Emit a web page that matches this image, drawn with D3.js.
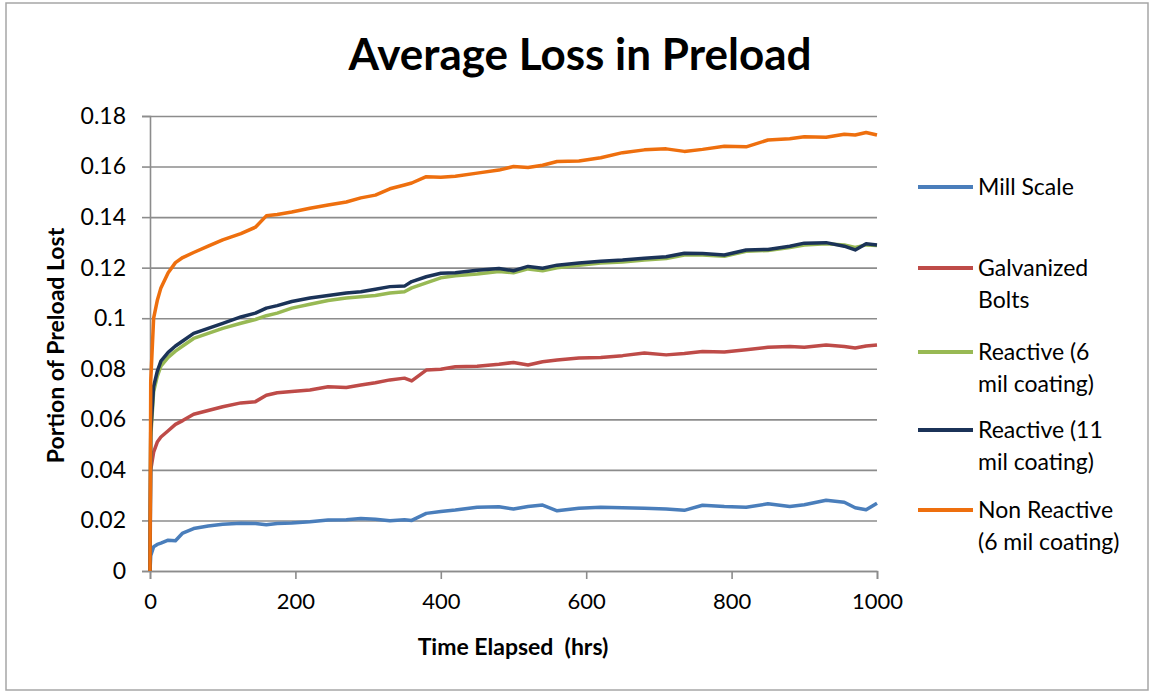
<!DOCTYPE html>
<html>
<head>
<meta charset="utf-8">
<script src="https://cdn.jsdelivr.net/npm/d3@7"></script>
<style>
    body { margin: 0; background: #fff; }
    text { font-family: Lato, 'Open Sans', sans-serif; fill: #000; }
</style>
</head>
<body>
<div id="chart"></div>
<script>
const hours = [0, 1, 5, 10, 15, 25, 35, 45, 60, 80, 100, 125, 145, 160, 175, 195, 220, 245, 270, 290,
    310, 330, 350, 360, 380, 400, 420, 450, 480, 500, 520, 540, 560, 590, 620, 650, 680, 710, 735, 760,
    790, 820, 850, 880, 900, 930, 955, 970, 985, 1000];

const millScale = [0, 0.006, 0.0096, 0.0105, 0.011, 0.0122, 0.012, 0.015, 0.0168, 0.0178, 0.0185, 0.0189, 0.0188, 0.0183, 0.0188, 0.019, 0.0195, 0.0202, 0.0203, 0.0208,
    0.0205, 0.0199, 0.0203, 0.02, 0.0228, 0.0235, 0.0241, 0.0252, 0.0254, 0.0245, 0.0255, 0.0261, 0.0238, 0.0248, 0.0252, 0.025, 0.0248, 0.0245, 0.024, 0.026,
    0.0255, 0.0252, 0.0266, 0.0255, 0.0262, 0.028, 0.0272, 0.025, 0.0242, 0.0268];

const galvanized = [0, 0.04, 0.047, 0.051, 0.053, 0.0555, 0.058, 0.0595, 0.062, 0.0635, 0.065, 0.0665, 0.067, 0.0695, 0.0705, 0.071, 0.0716, 0.0729, 0.0726, 0.0736,
    0.0745, 0.0756, 0.0763, 0.0752, 0.0795, 0.0798, 0.0808, 0.081, 0.0818, 0.0825, 0.0815, 0.0828, 0.0835, 0.0843, 0.0845, 0.0852, 0.0862, 0.0855, 0.086, 0.0868,
    0.0866, 0.0875, 0.0885, 0.0888, 0.0885, 0.0894, 0.0888, 0.0882, 0.089, 0.0894];

const reactive6 = [0, 0.053, 0.071, 0.077, 0.081, 0.0845, 0.087, 0.089, 0.092, 0.094, 0.096, 0.098, 0.0995, 0.101, 0.102, 0.104, 0.1055, 0.107, 0.108, 0.1085,
    0.109, 0.11, 0.1105, 0.112, 0.114, 0.116, 0.1168, 0.1175, 0.1185, 0.118, 0.1195, 0.1188, 0.12, 0.121, 0.1218, 0.1222, 0.123, 0.1236, 0.125, 0.125,
    0.1245, 0.1265, 0.1268, 0.128, 0.129, 0.1295, 0.129, 0.128, 0.129, 0.1288];

const reactive11 = [0, 0.055, 0.073, 0.079, 0.083, 0.0865, 0.089, 0.091, 0.094, 0.096, 0.098, 0.1005, 0.102, 0.104, 0.105, 0.1066, 0.108, 0.109, 0.11, 0.1105,
    0.1115, 0.1125, 0.1127, 0.1145, 0.1164, 0.1178, 0.118, 0.119, 0.1197, 0.1188, 0.1205, 0.1198, 0.121, 0.1218, 0.1225, 0.123, 0.1237, 0.1243, 0.1257, 0.1256,
    0.125, 0.127, 0.1272, 0.1285, 0.1297, 0.1299, 0.1285, 0.127, 0.1295, 0.129];

const nonReactive = [0, 0.075, 0.1, 0.107, 0.112, 0.118, 0.122, 0.124, 0.126, 0.1285, 0.131, 0.1335, 0.136, 0.1405, 0.141, 0.142, 0.1435, 0.1448, 0.146, 0.1476,
    0.1487, 0.1512, 0.1527, 0.1535, 0.156, 0.1558, 0.1562, 0.1574, 0.1586, 0.16, 0.1596, 0.1605, 0.162, 0.1622, 0.1635, 0.1655, 0.1666, 0.167, 0.166, 0.1668,
    0.168, 0.1678, 0.1705, 0.171, 0.1718, 0.1716, 0.1728, 0.1725, 0.1735, 0.1725];

const seriesNames = [['Mill Scale'], ['Galvanized', 'Bolts'], ['Reactive (6', 'mil coating)'], ['Reactive (11', 'mil coating)'], ['Non Reactive', '(6 mil coating)']];
const seriesValues = [millScale, galvanized, reactive6, reactive11, nonReactive];
const seriesColors = ['#4a7ebb', '#be4b48', '#98b954', '#1b3358', '#ee6f0e'];

const xTicks = [0, 200, 400, 600, 800, 1000];
const yTicks = [0, 0.02, 0.04, 0.06, 0.08, 0.1, 0.12, 0.14, 0.16, 0.18];

const width = 1151;
const height = 693;
const margin = { top: 116, left: 150, right: 274, bottom: 122 };
const gridColor = '#8c8c8c';

function drawChart() {
    const chartWidth = width - margin.left - margin.right;
    const chartHeight = height - margin.top - margin.bottom;

    const svg = d3.select('#chart').append('svg').attr('width', width).attr('height', height);

    // outer frame of the chart object
    svg.append('rect')
        .attr('x', 6).attr('y', 3)
        .attr('width', 1142).attr('height', 687)
        .attr('fill', 'none')
        .attr('stroke', '#a6a6a6')
        .attr('stroke-width', 1.5);

    svg.append('text')
        .attr('x', 580).attr('y', 70)
        .attr('text-anchor', 'middle')
        .style('font-size', '44px')
        .style('font-weight', 'bold')
        .text('Average Loss in Preload');

    const chart = svg.append('g').attr('transform', `translate(${margin.left}, ${margin.top})`);

    const xScale = d3.scaleLinear().domain([0, 1000]).range([0, chartWidth]);
    const yScale = d3.scaleLinear().domain([0, 0.18]).range([chartHeight, 0]);

    // horizontal grid lines
    chart.append('g')
        .attr('class', 'grid')
        .call(d3.axisLeft(yScale).tickValues(yTicks).tickSize(-chartWidth).tickFormat(''))
        .call((g) => g.select('.domain').remove())
        .call((g) => g.selectAll('line').attr('stroke', gridColor).attr('stroke-width', 1.6));

    const yAxis = d3.axisLeft(yScale)
        .tickValues(yTicks)
        .tickSize(8)
        .tickPadding(16)
        .tickFormat((d) => String(+d.toFixed(2)));

    chart.append('g')
        .call(yAxis)
        .call((g) => g.select('.domain').attr('stroke', gridColor).attr('stroke-width', 1.6))
        .call((g) => g.selectAll('line').attr('stroke', gridColor).attr('stroke-width', 1.6))
        .call((g) => g.selectAll('text').style('font-size', '23px').attr('fill', '#111'));

    const xAxis = d3.axisBottom(xScale)
        .tickValues(xTicks)
        .tickSize(8)
        .tickPadding(14)
        .tickSizeOuter(8)
        .tickFormat(d3.format('d'));

    chart.append('g')
        .attr('transform', `translate(0, ${chartHeight})`)
        .call(xAxis)
        .call((g) => g.select('.domain').attr('stroke', gridColor).attr('stroke-width', 1.6))
        .call((g) => g.selectAll('line').attr('stroke', gridColor).attr('stroke-width', 1.6))
        .call((g) => g.selectAll('text').style('font-size', '22px').attr('fill', '#111'));

    // series lines
    const line = d3.line()
        .x((d, i) => xScale(hours[i]))
        .y((d) => yScale(d));

    chart.append('g')
        .selectAll('path')
        .data(seriesValues)
        .enter()
        .append('path')
        .attr('d', (s) => line(s))
        .attr('fill', 'none')
        .attr('stroke', (s, i) => seriesColors[i])
        .attr('stroke-width', 3.5)
        .attr('stroke-linejoin', 'round');

    // axis titles
    svg.append('text')
        .attr('transform', `translate(64, ${margin.top + chartHeight / 2 + 2}) rotate(-90)`)
        .attr('text-anchor', 'middle')
        .style('font-size', '23px')
        .style('font-weight', 'bold')
        .text('Portion of Preload Lost');

    svg.append('text')
        .attr('x', 513).attr('y', 655)
        .attr('text-anchor', 'middle')
        .style('font-size', '23px')
        .style('font-weight', 'bold')
        .style('white-space', 'pre')
        .text('Time Elapsed  (hrs)');

    // legend
    const legendTops = [187, 268, 352, 430, 510];
    const legend = svg.append('g');
    const items = legend.selectAll('g')
        .data(seriesNames)
        .enter()
        .append('g')
        .attr('transform', (d, i) => `translate(918, ${legendTops[i]})`);

    items.append('line')
        .attr('x1', 0).attr('x2', 55)
        .attr('stroke', (d, i) => seriesColors[i])
        .attr('stroke-width', 4);

    items.append('text')
        .attr('x', 60)
        .attr('y', 8)
        .style('font-size', '23px')
        .attr('fill', '#222')
        .selectAll('tspan')
        .data((d) => d)
        .enter()
        .append('tspan')
        .attr('x', 60)
        .attr('dy', (d, i) => (i === 0 ? 0 : 32))
        .text((d) => d);
}

drawChart();
</script>
</body>
</html>
